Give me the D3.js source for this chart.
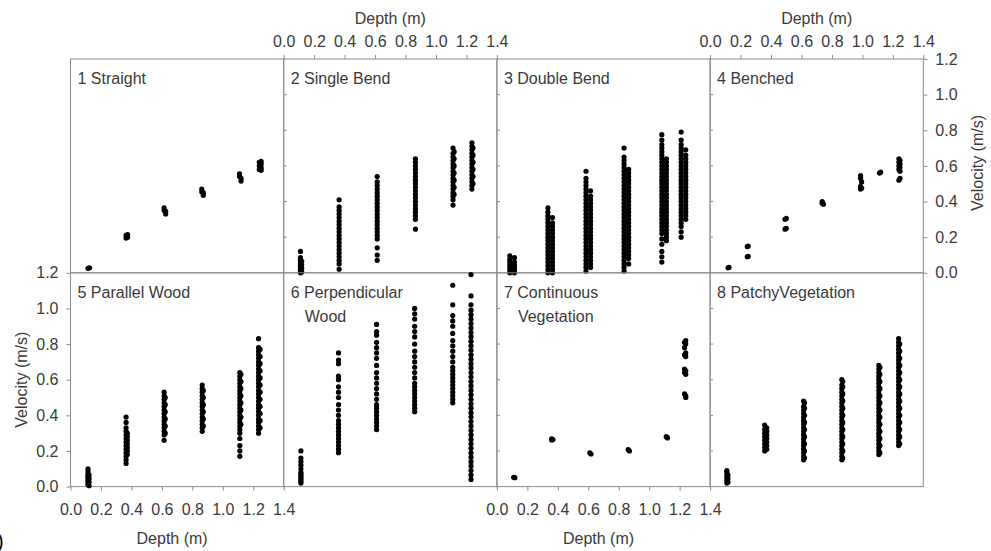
<!DOCTYPE html>
<html><head><meta charset="utf-8">
<script src="https://cdn.jsdelivr.net/npm/d3@7"></script>
<style>
html,body{margin:0;padding:0;background:#fff;}
svg{display:block;font-family:"Liberation Sans",Arial,sans-serif;}
</style></head>
<body>
<script>
// Depth ticks (m) and velocity ticks (m/s)
const depthTicks = [0.0,0.2,0.4,0.6,0.8,1.0,1.2,1.4];
const velocityTicks = [0.0,0.2,0.4,0.6,0.8,1.0,1.2];
const panelTitles = [["1 Straight"],["2 Single Bend"],["3 Double Bend"],["4 Benched"],
  ["5 Parallel Wood"],["6 Perpendicular","Wood"],["7 Continuous","Vegetation"],["8 PatchyVegetation"]];

// each entry: [depth (m), [velocities (m/s)]]
const straight = [
 [0.115,[.025]],[0.125,[.028]],
 [0.365,[.195,.21]],[0.375,[.20,.215]],
 [0.615,[.35,.365]],[0.625,[.33,.345]],
 [0.862,[.455,.47]],[0.872,[.435,.45]],
 [1.11,[.54,.555]],[1.12,[.515,.53]],
 [1.24,[.58,.60,.62]],[1.252,[.575,.59,.61,.625]]
];
const singleBend = [
 [0.11,[0,.01,.02,.03,.04,.05,.06,.07,.085,.12]],
 [0.118,[.005,.025,.045,.065]],
 [0.364,[.02,.05,.07,.09,.11,.13,.15,.17,.19,.21,.23,.25,.27,.29,.31,.33,.35,.37,.41]],
 [0.614,[.07,.10,.14,.19,.21,.23,.25,.27,.29,.31,.33,.35,.37,.39,.41,.43,.45,.47,.49,.51,.54]],
 [0.865,[.245,.30,.32,.34,.36,.38,.40,.42,.44,.46,.48,.50,.52,.54,.56,.58,.60,.62,.64]],
 [1.112,[.38,.41,.43,.45,.47,.49,.51,.53,.55,.57,.59,.61,.63,.65,.67,.70]],
 [1.119,[.44,.48,.52,.56,.60,.64,.68]],
 [1.236,[.47,.49,.51,.53,.55,.57,.59,.61,.63,.65,.67,.69,.71,.73]],
 [1.243,[.50,.54,.58,.62,.66,.70]]
];
const doubleBend = [
 [0.085,[0,.015,.03,.045,.06,.075,.095]],
 [0.115,[0,.015,.03,.045,.06,.085]],
 [0.335,[0,.02,.04,.06,.08,.10,.12,.14,.16,.18,.20,.22,.24,.26,.28,.30,.32,.34,.365]],
 [0.365,[0,.02,.04,.06,.08,.10,.12,.14,.16,.18,.20,.22,.24,.26,.28,.31]],
 [0.585,[.01,.03,.05,.07,.09,.11,.13,.15,.17,.19,.21,.23,.25,.27,.29,.31,.33,.35,.37,.39,.41,.43,.45,.47,.49,.51,.53,.57]],
 [0.615,[.03,.05,.07,.09,.11,.13,.15,.17,.19,.21,.23,.25,.27,.29,.31,.33,.35,.37,.39,.41,.43,.46]],
 [0.835,[.01,.03,.05,.07,.09,.11,.13,.15,.17,.19,.21,.23,.25,.27,.29,.31,.33,.35,.37,.39,.41,.43,.45,.47,.49,.51,.53,.55,.57,.59,.61,.63,.65,.70]],
 [0.865,[.05,.08,.10,.12,.14,.16,.18,.20,.22,.24,.26,.28,.30,.32,.34,.36,.38,.40,.42,.44,.46,.48,.50,.52,.54,.56,.58]],
 [1.083,[.06,.09,.12,.16,.19,.22,.24,.26,.28,.30,.32,.34,.36,.38,.40,.42,.44,.46,.48,.50,.52,.54,.56,.58,.60,.62,.64,.66,.68,.70,.72,.745,.775]],
 [1.113,[.18,.20,.22,.24,.26,.28,.30,.32,.34,.36,.38,.40,.42,.44,.46,.48,.50,.52,.54,.56,.58,.60,.62,.64]],
 [1.21,[.2,.23,.26,.28,.30,.32,.34,.36,.38,.40,.42,.44,.46,.48,.50,.52,.54,.56,.58,.60,.62,.64,.66,.68,.70,.72,.745,.79]],
 [1.24,[.30,.32,.34,.36,.38,.40,.42,.44,.46,.48,.50,.52,.54,.56,.58,.60,.62,.64,.66,.69]]
];
const benched = [
 [0.118,[.028]],[0.124,[.03]],
 [0.244,[.147,.09]],[0.25,[.15,.093]],
 [0.492,[.30,.245]],[0.5,[.305,.25]],
 [0.736,[.39,.40]],[0.744,[.385]],
 [0.988,[.53,.545,.47,.485]],[0.995,[.51,.475]],
 [1.112,[.56]],[1.12,[.565]],
 [1.24,[.58,.60,.62,.64,.52]],[1.247,[.57,.59,.61,.63,.53]]
];
const parallelWood = [
 [0.115,[.01,.02,.03,.04,.05,.06,.07,.085,.10]],
 [0.122,[.005,.025,.045,.065]],
 [0.365,[.13,.15,.17,.19,.21,.23,.25,.27,.29,.31,.33,.36,.39]],
 [0.373,[.18,.20,.22,.24,.26,.28,.30]],
 [0.615,[.26,.29,.31,.33,.35,.37,.39,.41,.43,.45,.47,.49,.51,.53]],
 [0.622,[.30,.34,.38,.42,.46,.50]],
 [0.865,[.31,.33,.35,.37,.39,.41,.43,.45,.47,.49,.51,.53,.55,.57]],
 [0.872,[.34,.38,.42,.46,.50,.54]],
 [1.112,[.17,.20,.23,.27,.30,.32,.34,.36,.38,.40,.42,.44,.46,.48,.50,.52,.54,.56,.58,.60,.62,.64]],
 [1.119,[.35,.39,.43,.47,.51,.55,.59,.63]],
 [1.235,[.30,.32,.34,.36,.38,.40,.42,.44,.46,.48,.50,.52,.54,.56,.58,.60,.62,.64,.66,.68,.70,.72,.74,.76,.78,.83]],
 [1.245,[.33,.37,.41,.45,.49,.53,.57,.61,.65,.69,.73,.77]]
];
const perpendicularWood = [
 [0.113,[.02,.03,.04,.05,.06,.07,.08,.10,.12,.14,.16,.20]],
 [0.36,[.19,.21,.23,.25,.27,.29,.31,.33,.35,.37,.40,.43,.46,.50,.53,.56,.60,.62,.69,.71,.75]],
 [0.61,[.32,.34,.36,.38,.40,.42,.44,.46,.49,.52,.55,.58,.61,.64,.68,.72,.75,.78,.81,.85,.87,.91]],
 [0.86,[.42,.44,.46,.48,.50,.52,.54,.56,.58,.61,.64,.67,.70,.73,.76,.80,.84,.87,.90,.94,.97,1.0]],
 [1.11,[.47,.49,.51,.53,.55,.57,.59,.61,.63,.65,.67,.70,.73,.76,.79,.82,.86,.90,.93,.96,1.02,1.13]],
 [1.23,[.04,.065,.09,.115,.14,.165,.19,.215,.24,.265,.29,.315,.34,.365,.39,.415,.44,.465,.49,.515,.54,.565,.59,.615,.64,.665,.69,.715,.74,.765,.79,.815,.84,.865,.89,.915,.94,.965,.99,1.02,1.07,1.19]]
];
const continuousVegetation = [
 [0.11,[.052]],[0.118,[.05]],
 [0.36,[.268,.262]],[0.368,[.264]],
 [0.61,[.19]],[0.618,[.183]],
 [0.862,[.208]],[0.87,[.2]],
 [1.112,[.28]],[1.12,[.273]],
 [1.232,[.81,.78,.74,.66,.64,.52]],[1.24,[.82,.80,.75,.73,.65,.63,.51,.50]]
];
const patchyVegetation = [
 [0.11,[.02,.035,.05,.065,.08,.09]],[0.117,[.025,.045,.065]],
 [0.358,[.20,.22,.24,.26,.28,.30,.32,.345]],[0.372,[.21,.23,.25,.27,.29,.31,.33]],
 [0.614,[.15,.17,.19,.21,.23,.25,.27,.29,.31,.33,.35,.37,.39,.41,.43,.45,.48]],
 [0.62,[.16,.20,.24,.28,.32,.36,.40,.44,.47]],
 [0.865,[.15,.17,.19,.21,.23,.25,.27,.29,.31,.33,.35,.37,.39,.41,.43,.45,.47,.49,.51,.53,.55,.57,.60]],
 [0.871,[.16,.20,.24,.28,.32,.36,.40,.44,.48,.52,.56,.59]],
 [1.108,[.18,.20,.22,.24,.26,.28,.30,.32,.34,.36,.38,.40,.42,.44,.46,.48,.50,.52,.54,.56,.58,.60,.62,.64,.66,.68]],
 [1.115,[.19,.23,.27,.31,.35,.39,.43,.47,.51,.55,.59,.63,.67]],
 [1.238,[.23,.25,.27,.29,.31,.33,.35,.37,.39,.41,.43,.45,.47,.49,.51,.53,.55,.57,.59,.61,.63,.65,.67,.69,.71,.73,.75,.77,.79,.81,.83]],
 [1.245,[.24,.28,.32,.36,.40,.44,.48,.52,.56,.60,.64,.68,.72,.76,.80]]
];
const panelData = [straight, singleBend, doubleBend, benched, parallelWood, perpendicularWood, continuousVegetation, patchyVegetation];

const L = 70.5, T = 59, W = 213.2, H = 213.8;
const lineColor = "#8a8a8a", textColor = "#3a3a3a";
const svg = d3.select("body").append("svg").attr("width", 991).attr("height", 551);
const x = d3.scaleLinear().domain([0, 1.4]).range([0, W]);
const y = d3.scaleLinear().domain([0, 1.2]).range([H, 0]);
const fmt = d3.format(".1f");

function styleAxis(g) {
  g.select(".domain").remove();
  g.selectAll(".tick line").attr("stroke", lineColor);
  g.selectAll(".tick text").attr("fill", textColor).style("font-size", "16px");
}

panelData.forEach((pd, i) => {
  const col = i % 4, row = Math.floor(i / 4);
  const g = svg.append("g").attr("transform", `translate(${L + col * W},${T + row * H})`);
  g.append("rect").attr("width", W).attr("height", H).attr("fill", "none").attr("stroke", lineColor).attr("stroke-width", 1);
  if ([1,2,3,6,7].includes(i)) {
    g.selectAll("line.it").data(velocityTicks.slice(1, 6)).join("line")
      .attr("x1", 0).attr("x2", 3).attr("y1", d => y(d)).attr("y2", d => y(d)).attr("stroke", lineColor);
  }
  const pts = pd.flatMap(([dep, vals]) => vals.map(v => [dep, v]));
  g.selectAll("circle").data(pts).join("circle")
    .attr("cx", d => x(d[0])).attr("cy", d => y(d[1])).attr("r", 2.6).attr("fill", "#000");
  const t = g.append("text").attr("fill", textColor).style("font-size", "16px");
  panelTitles[i].forEach((s, k) => {
    t.append("tspan").attr("x", k === 0 ? 7 : 21).attr("y", 25 + k * 24).text(s);
  });
  if (i === 1 || i === 3) {
    g.append("g").call(d3.axisTop(x).tickValues(depthTicks).tickSize(4).tickPadding(8).tickFormat(fmt)).call(styleAxis);
    g.append("text").attr("x", W / 2).attr("y", -35).attr("text-anchor", "middle").attr("fill", textColor).style("font-size", "16px").text("Depth (m)");
  }
  if (i === 3) {
    g.append("g").attr("transform", `translate(${W},0)`).call(d3.axisRight(y).tickValues(velocityTicks).tickSize(4).tickPadding(8).tickFormat(fmt)).call(styleAxis);
    g.append("text").attr("transform", `translate(${W + 60},${104}) rotate(-90)`).attr("text-anchor", "middle").attr("fill", textColor).style("font-size", "16px").text("Velocity (m/s)");
  }
  if (i === 4) {
    g.append("g").call(d3.axisLeft(y).tickValues(velocityTicks).tickSize(4).tickPadding(8).tickFormat(fmt)).call(styleAxis);
    g.append("text").attr("transform", `translate(-44,${H / 2}) rotate(-90)`).attr("text-anchor", "middle").attr("fill", textColor).style("font-size", "16px").text("Velocity (m/s)");
  }
  if (i === 4 || i === 6) {
    g.append("g").attr("transform", `translate(0,${H})`).call(d3.axisBottom(x).tickValues(depthTicks).tickSize(4).tickPadding(13).tickFormat(fmt)).call(styleAxis);
    g.append("text").attr("x", W / 2 - 5).attr("y", H + 57).attr("text-anchor", "middle").attr("fill", textColor).style("font-size", "16px").text("Depth (m)");
  }
});
svg.append("text").attr("x", -3).attr("y", 548).attr("fill", "#000").style("font-size", "20px").text(")");
</script>
</body></html>
